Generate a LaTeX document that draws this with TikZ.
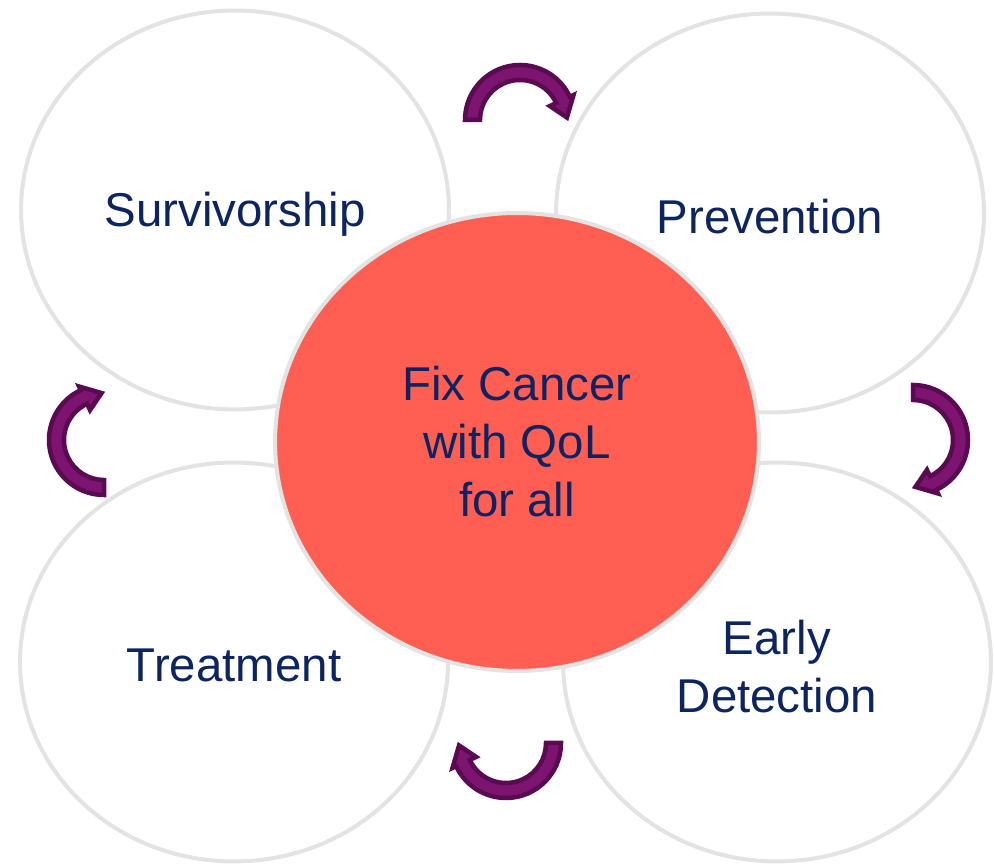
\documentclass[tikz,border=0pt]{standalone}
\usepackage{fontspec}
\setmainfont{Liberation Sans}
\usetikzlibrary{shapes.geometric}
\definecolor{navytext}{HTML}{0C2461}
\definecolor{ringgray}{HTML}{E3E3E3}
\definecolor{corered}{HTML}{FF5F53}
\definecolor{arrowpurple}{HTML}{7D1470}
\definecolor{arrowdark}{HTML}{5A0A50}

\begin{document}
\begin{tikzpicture}[x=0.02cm,y=0.02cm,
      stageblock/.style={shape=ellipse,draw=ringgray,line width=0.08cm,fill=white,
        minimum width=8.56cm,minimum height=7.98cm,inner sep=0pt,
        text=navytext,font=\fontsize{27}{33}\selectfont,align=center},
      coreblock/.style={stageblock,fill=corered,minimum width=9.68cm,minimum height=9.16cm},
      stagetext/.style={text=navytext,font=\fontsize{27}{33}\selectfont,align=center},
      cyclearrow/.pic={
        \filldraw[fill=arrowpurple,draw=arrowdark,line width=0.09cm,line join=miter]
          (180:55) arc[start angle=180,end angle=25,radius=55] -- (25:59) -- (3:47)
          -- (25:33) -- (25:40) arc[start angle=25,end angle=180,radius=40] -- cycle;}]
      \useasboundingbox[fill=white] (0,0) rectangle (994,864);

      % Blocks
      \node[stageblock] (survivorship) at (235,654) {};
      \node[stageblock] (prevention)   at (770,651) {};
      \node[stageblock] (treatment)    at (234,202) {};
      \node[stageblock] (detection)    at (777,202) {};
      \node[coreblock]  (core)         at (517,422) {Fix Cancer\\with QoL\\for all};

      % Labels
      \node[stagetext] (survlabel)  at ([yshift=-0.08cm]survivorship.center) {Survivorship};
      \node[stagetext] (prevlabel)  at ([yshift=-0.08cm]prevention.center)   {Prevention};
      \node[stagetext] (treatlabel) at ([yshift=-0.06cm]treatment.center)    {Treatment};
      \node[stagetext] (detlabel)   at ([yshift=-0.1cm]detection.center)     {Early\\Detection};

      % Arrows
      \pic               at (520,744) {cyclearrow};
      \pic[rotate=-90]   at (913,424) {cyclearrow};
      \pic[rotate=180]   at (506,121) {cyclearrow};
      \pic[rotate=90]    at (104,424) {cyclearrow};

    \end{tikzpicture}
\end{document}
